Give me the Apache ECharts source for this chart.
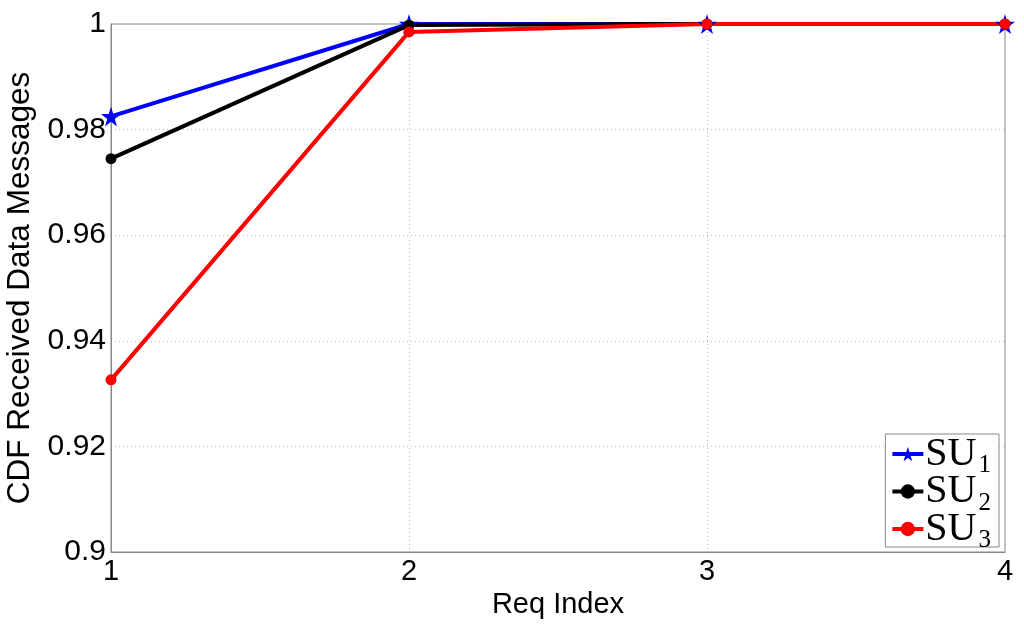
<!DOCTYPE html>
<html><head><meta charset="utf-8">
<script src="https://cdn.jsdelivr.net/npm/echarts@6/dist/echarts.min.js"></script>
<style>html,body{margin:0;padding:0;background:#fff}#c{width:1024px;height:629px}</style>
</head><body><div id="c"></div>
<script>
const xValues = [1, 2, 3, 4];
const su1 = [0.9825, 1.0, 1.0, 1.0];
const su2 = [0.9745, 0.9998, 1.0, 1.0];
const su3 = [0.9326, 0.9985, 1.0, 1.0];
const seriesNames = ['SU1', 'SU2', 'SU3'];
const subs = ['1', '2', '3'];
const yTicks = [0.9, 0.92, 0.94, 0.96, 0.98, 1];

const chart = echarts.init(document.getElementById('c'));
function mk(name, vals, color, symbol, size) {
  return {
    name: name, type: 'line', data: xValues.map((x, i) => [x, vals[i]]),
    lineStyle: {color: color, width: 4}, itemStyle: {color: color},
    symbol: symbol, symbolSize: size, showSymbol: true, animation: false
  };
}
const F = 'Liberation Sans';
chart.setOption({
  backgroundColor: '#fff',
  grid: {left: 111, right: 19, top: 24, bottom: 77, show: true, borderColor: '#888', borderWidth: 1,
         backgroundColor: 'transparent', outerBoundsMode: 'none', containLabel: false},
  xAxis: {
    type: 'value', min: 1, max: 4, interval: 1,
    name: 'Req Index', nameLocation: 'middle', nameGap: 36,
    nameTextStyle: {fontFamily: F, fontSize: 29, color: '#000'},
    axisLine: {show: true, onZero: false, lineStyle: {color: '#888', width: 1}},
    axisTick: {show: false},
    axisLabel: {fontFamily: F, fontSize: 29, color: '#000', margin: 5},
    splitLine: {show: true, lineStyle: {color: '#bbb', type: [1, 3], width: 1}}
  },
  yAxis: {
    type: 'value', min: 0.9, max: 1, interval: 0.02,
    name: 'CDF Received Data Messages', nameLocation: 'middle', nameGap: 73,
    nameTextStyle: {fontFamily: F, fontSize: 31.5, color: '#000'},
    axisLine: {show: true, lineStyle: {color: '#888', width: 1}},
    axisTick: {show: false},
    axisLabel: {fontFamily: F, fontSize: 30, color: '#000', margin: 5,
      formatter: v => { const t = yTicks.find(y => Math.abs(y - v) < 1e-9); return t === undefined ? '' : String(t); }},
    splitLine: {show: true, lineStyle: {color: '#bbb', type: [1, 3], width: 1}}
  },
  legend: {
    orient: 'vertical', right: 25, bottom: 82,
    backgroundColor: '#fff', borderColor: '#888', borderWidth: 1,
    padding: [0, 8, -6, 5], itemGap: -6.5, itemWidth: 31, itemHeight: 18,
    lineStyle: {width: 4},
    data: seriesNames,
    formatter: n => '{a|SU}{b|' + subs[seriesNames.indexOf(n)] + '}',
    textStyle: {
      rich: {
        a: {fontFamily: 'Liberation Serif', fontSize: 40, color: '#000', lineHeight: 40, verticalAlign: 'top', padding: [0, 0, 0, -3]},
        b: {fontFamily: 'Liberation Serif', fontSize: 25, color: '#000', verticalAlign: 'top', lineHeight: 25, padding: [19, 0, 0, 2]}
      }
    }
  },
  series: [
    mk('SU1', su1, '#0000ff', 'path://M50,0 L61,35 L98,35 L68,57 L79,91 L50,70 L21,91 L32,57 L2,35 L39,35 Z', 20),
    mk('SU2', su2, '#000000', 'circle', 11),
    mk('SU3', su3, '#ff0000', 'circle', 11)
  ]
});
</script></body></html>
